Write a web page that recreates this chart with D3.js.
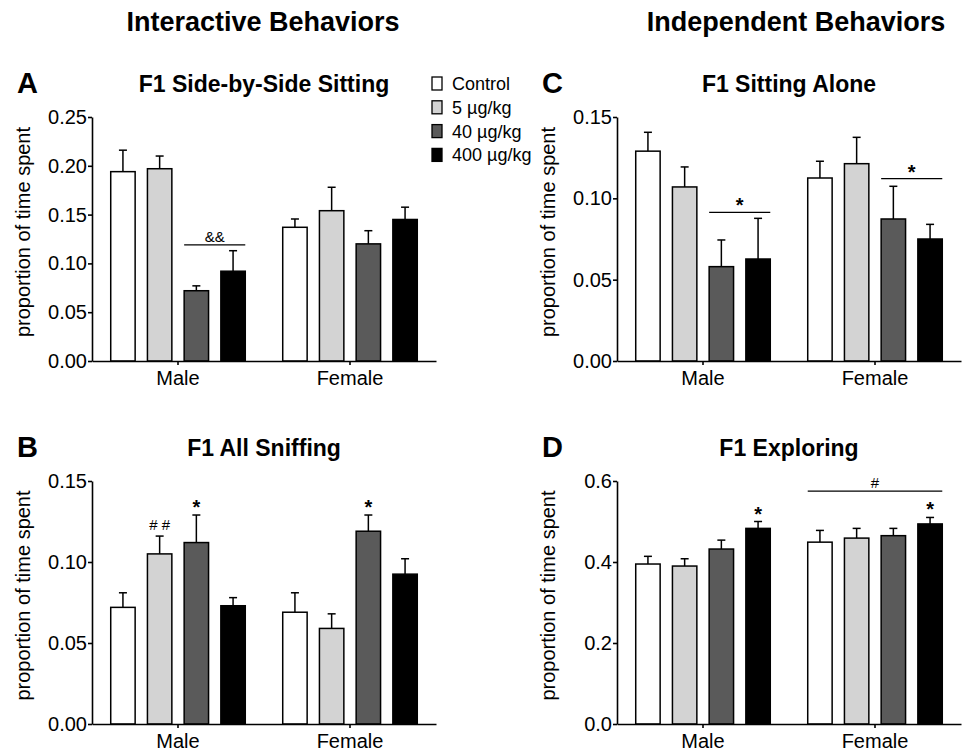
<!DOCTYPE html>
<html>
<head>
<meta charset="utf-8">
<script src="https://cdn.jsdelivr.net/npm/d3@7"></script>
<style>
  body { margin: 0; background: #fff; }
  svg { display: block; font-family: "Liberation Sans", Arial, Helvetica, sans-serif; }
</style>
</head>
<body>
<svg id="chart" width="966" height="750"></svg>
<script>
const groups = ['Male', 'Female']
const doses = ['Control', '5 µg/kg', '40 µg/kg', '400 µg/kg']
const doseColors = ['#ffffff', '#d3d3d3', '#5a5a5a', '#000000']

// mean and SEM per group (Male, Female) and dose
const sideBySideMean = [[0.194, 0.197, 0.072, 0.092], [0.137, 0.154, 0.120, 0.145]]
const sideBySideSem = [[0.022, 0.013, 0.005, 0.021], [0.0085, 0.024, 0.0135, 0.0126]]

const sniffingMean = [[0.072, 0.105, 0.112, 0.073], [0.069, 0.059, 0.119, 0.0925]]
const sniffingSem = [[0.009, 0.011, 0.017, 0.005], [0.012, 0.009, 0.010, 0.0095]]

const aloneMean = [[0.129, 0.107, 0.058, 0.0627], [0.1125, 0.1213, 0.0873, 0.075]]
const aloneSem = [[0.0116, 0.0123, 0.0164, 0.025], [0.0103, 0.0162, 0.0201, 0.009]]

const exploringMean = [[0.395, 0.390, 0.432, 0.483], [0.449, 0.459, 0.465, 0.494]]
const exploringSem = [[0.019, 0.018, 0.022, 0.017], [0.029, 0.024, 0.018, 0.016]]

// significance marks: brackets span doses of one group at a value, 'bar' marks sit on an error bar
const sideBySideMarks = [{ type: 'bracket', group: 0, from: 2, to: 3, value: 0.119, label: '&&' }]
const sniffingMarks = [
  { type: 'bar', group: 0, dose: 1, label: '# #' },
  { type: 'bar', group: 0, dose: 2, label: '*' },
  { type: 'bar', group: 1, dose: 2, label: '*' }
]
const aloneMarks = [
  { type: 'bracket', group: 0, from: 2, to: 3, value: 0.0914, label: '*' },
  { type: 'bracket', group: 1, from: 2, to: 3, value: 0.1121, label: '*' }
]
const exploringMarks = [
  { type: 'bar', group: 0, dose: 3, label: '*' },
  { type: 'bar', group: 1, dose: 3, label: '*' },
  { type: 'bracket', group: 1, from: 0, to: 3, value: 0.575, label: '#' }
]

const ticksA = [0, 0.05, 0.10, 0.15, 0.20, 0.25]
const ticksSmall = [0, 0.05, 0.10, 0.15]
const ticksD = [0, 0.2, 0.4, 0.6]

const panels = [
  { letter: 'A', title: 'F1 Side-by-Side Sitting', mean: sideBySideMean, sem: sideBySideSem, marks: sideBySideMarks,
    max: 0.25, ticks: ticksA, fmt: '.2f', left: 92, right: 436, top: 117, bottom: 361, letterX: 17 },
  { letter: 'B', title: 'F1 All Sniffing', mean: sniffingMean, sem: sniffingSem, marks: sniffingMarks,
    max: 0.15, ticks: ticksSmall, fmt: '.2f', left: 92, right: 436, top: 481, bottom: 724, letterX: 17 },
  { letter: 'C', title: 'F1 Sitting Alone', mean: aloneMean, sem: aloneSem, marks: aloneMarks,
    max: 0.15, ticks: ticksSmall, fmt: '.2f', left: 617, right: 961, top: 117, bottom: 361, letterX: 542 },
  { letter: 'D', title: 'F1 Exploring', mean: exploringMean, sem: exploringSem, marks: exploringMarks,
    max: 0.6, ticks: ticksD, fmt: '.1f', left: 617, right: 961, top: 481, bottom: 724, letterX: 542 }
]

const svg = d3.select('#chart')

svg.append('text').attr('x', 263).attr('y', 31).attr('text-anchor', 'middle')
  .attr('font-size', '27px').attr('font-weight', 'bold').text('Interactive Behaviors')
svg.append('text').attr('x', 796).attr('y', 31).attr('text-anchor', 'middle')
  .attr('font-size', '27px').attr('font-weight', 'bold').text('Independent Behaviors')

panels.forEach(function (p) {
  const g = svg.append('g')
  const x0 = d3.scaleBand().domain(groups).range([p.left, p.right])
  const x1 = d3.scaleBand().domain(doses).range([0, x0.bandwidth()]).paddingInner(0.335).paddingOuter(0.51)
  const y = d3.scaleLinear().domain([0, p.max]).range([p.bottom, p.top])

  const rows = []
  groups.forEach((grp, gi) => doses.forEach((dose, di) => {
    rows.push({ grp, dose, gi, di, mean: p.mean[gi][di], sem: p.sem[gi][di] })
  }))

  // error bars (upper only)
  const err = g.append('g').attr('stroke', '#000').attr('stroke-width', 1.5)
  rows.forEach(function (d) {
    const cx = x0(d.grp) + x1(d.dose) + x1.bandwidth() / 2
    err.append('line').attr('x1', cx).attr('x2', cx).attr('y1', y(d.mean)).attr('y2', y(d.mean + d.sem))
    err.append('line').attr('x1', cx - 4).attr('x2', cx + 4).attr('y1', y(d.mean + d.sem)).attr('y2', y(d.mean + d.sem))
  })

  g.append('g').selectAll('rect').data(rows).join('rect')
    .attr('x', d => x0(d.grp) + x1(d.dose))
    .attr('y', d => y(d.mean))
    .attr('width', x1.bandwidth())
    .attr('height', d => y(0) - y(d.mean))
    .attr('fill', d => doseColors[d.di])
    .attr('stroke', '#000')
    .attr('stroke-width', 1.5)

  // axes
  const yAxis = g.append('g').attr('transform', `translate(${p.left},0)`)
    .call(d3.axisLeft(y).tickValues(p.ticks).tickFormat(d3.format(p.fmt)).tickSize(4).tickSizeOuter(0).tickPadding(1))
  const xAxis = g.append('g').attr('transform', `translate(0,${p.bottom})`)
    .call(d3.axisBottom(x0).tickSize(4).tickSizeOuter(0).tickPadding(6))
  ;[yAxis, xAxis].forEach(function (a) {
    a.select('.domain').attr('stroke', '#000').attr('stroke-width', 1.6)
    a.selectAll('.tick line').attr('stroke', '#000').attr('stroke-width', 1.6)
    a.selectAll('.tick text').attr('fill', '#000').attr('font-size', '20px').attr('font-family', null)
  })

  g.append('text')
    .attr('transform', `translate(${p.left - 62},${(p.top + p.bottom) / 2 - 7}) rotate(-90)`)
    .attr('text-anchor', 'middle').attr('font-size', '20px').text('proportion of time spent')

  g.append('text').attr('x', (p.left + p.right) / 2).attr('y', p.top - 25)
    .attr('text-anchor', 'middle').attr('font-size', '23px').attr('font-weight', 'bold').text(p.title)
  g.append('text').attr('x', p.letterX).attr('y', p.top - 24)
    .attr('font-size', '29px').attr('font-weight', 'bold').text(p.letter)

  // significance marks
  p.marks.forEach(function (m) {
    const star = m.label === '*'
    const lab = g.append('text').attr('text-anchor', 'middle')
      .attr('font-size', star ? '20px' : '15px').attr('font-weight', star ? 'bold' : null).text(m.label)
    if (m.type === 'bracket') {
      const xa = x0(groups[m.group]) + x1(doses[m.from])
      const xb = x0(groups[m.group]) + x1(doses[m.to]) + x1.bandwidth()
      g.append('line').attr('x1', xa).attr('x2', xb).attr('y1', y(m.value)).attr('y2', y(m.value))
        .attr('stroke', '#000').attr('stroke-width', 1.2)
      lab.attr('x', (xa + xb) / 2).attr('y', y(m.value) - (star ? 0 : 3))
    } else {
      const cx = x0(groups[m.group]) + x1(doses[m.dose]) + x1.bandwidth() / 2
      const top = y(p.mean[m.group][m.dose] + p.sem[m.group][m.dose])
      lab.attr('x', cx).attr('y', top - (star ? 1 : 6))
    }
  })
})

// legend
const legend = svg.append('g').attr('transform', 'translate(432,77)')
doses.forEach(function (dose, i) {
  const row = legend.append('g').attr('transform', `translate(0,${i * 23.8})`)
  row.append('rect').attr('width', 10).attr('height', 13)
    .attr('fill', doseColors[i]).attr('stroke', '#000').attr('stroke-width', 1.3)
  row.append('text').attr('x', 20).attr('y', 13).attr('font-size', '18px').text(dose)
})
</script>
</body>
</html>
